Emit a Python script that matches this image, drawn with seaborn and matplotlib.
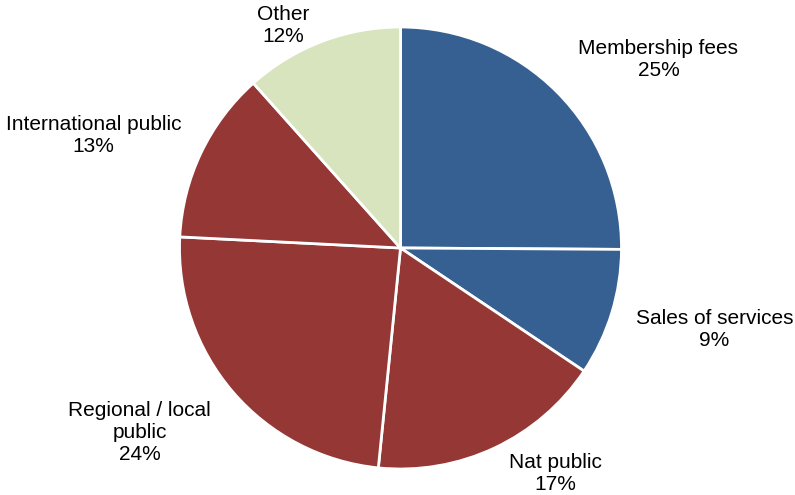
import matplotlib
matplotlib.use("Agg")
import matplotlib.pyplot as plt
import seaborn as sns

sns.set_theme(style="white")
plt.rcParams["font.family"] = ["Liberation Sans", "DejaVu Sans"]

categories = ["Membership fees", "Sales of services", "Nat public",
              "Regional / local\npublic", "International public", "Other"]
shares = [25.1, 9.3, 17.2, 24.2, 12.6, 11.6]
colors = ["#376092", "#376092", "#953735", "#953735", "#953735", "#D7E4BD"]
# label anchor points (data units, pie radius = 1)
label_xy = [(1.167, 0.851), (1.421, -0.367), (0.701, -1.022),
            (-1.181, -0.837), (-1.389, 0.511), (-0.529, 1.009)]

fig = plt.figure(figsize=(7.95, 4.95), dpi=100)
ax = fig.add_axes([179 / 795, 26 / 495, 443 / 795, 442 / 495])
ax.pie(shares, colors=colors, startangle=90, counterclock=False,
       radius=1.0, wedgeprops=dict(edgecolor="white", linewidth=2))
for name, val, (x, y) in zip(categories, shares, label_xy):
    ax.text(x, y, f"{name}\n{round(val):d}%", ha="center", va="center",
            fontsize=15, color="#000000", linespacing=1.2)
ax.set_xlim(-1.0, 1.0)
ax.set_ylim(-1.0, 1.0)
ax.set_aspect("equal")
ax.axis("off")
fig.savefig("out.png", dpi=100)
